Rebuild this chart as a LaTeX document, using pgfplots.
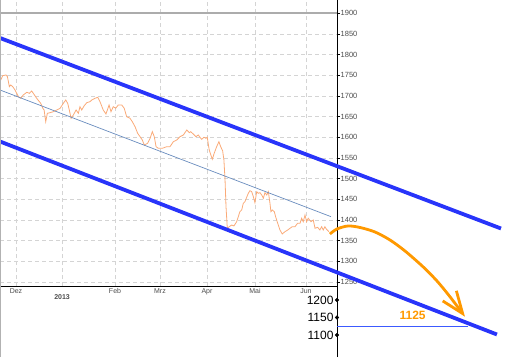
\documentclass[border=0pt]{standalone}
\usepackage{pgfplots}
\pgfplotsset{compat=1.18}
\usepackage{fontspec}
\setmainfont{Liberation Sans}
\usetikzlibrary{arrows.meta}
\definecolor{chan}{RGB}{40,52,250}
\definecolor{price}{RGB}{250,170,120}
\definecolor{trend}{RGB}{105,140,190}
\definecolor{arr}{RGB}{255,153,0}
\definecolor{gridc}{RGB}{212,212,212}
\definecolor{lvl}{RGB}{60,90,255}
\begin{document}
\begin{tikzpicture}
\begin{axis}[
  at={(0,71pt)}, anchor=south west,
  scale only axis, width=337pt, height=286pt,
  xmin=-7.4, xmax=201.2, ymin=1240.3, ymax=1932.2,
  clip=false,
  axis x line*=bottom, axis y line*=right,
  axis line style={black, line width=0.8pt},
  xtick={2.5,63.8,91.6,120.7,150.4,182},
  xticklabels={Dez,Feb,Mrz,Apr,Mai,Jun},
  xtick style={draw=none},
  extra x ticks={31}, extra x tick labels={\textbf{2013}},
  extra x tick style={tick style={draw=black, line width=0.6pt}, xticklabel style={yshift=-6pt}},
  x tick label style={font=\fontsize{7}{8}\selectfont, text=black!70, inner sep=1pt, yshift=2pt},
  ytick={1250,1300,...,1900},
  y tick label style={font=\fontsize{7.5}{8}\selectfont, text=black!70, inner sep=0.5pt},
  ytick style={black, line width=0.6pt},
  /pgf/number format/1000 sep={},
  /pgf/number format/assume math mode=true,
  tick align=outside, major tick length=3pt,
  xmajorgrids, ymajorgrids,
  grid style={gridc, dash pattern=on 4pt off 3pt, line width=0.6pt},
]
\addplot[gray!65, line width=1.8pt] coordinates {(-7.4,1900) (201.2,1900)};
\addplot[price, line width=0.8pt] coordinates {
(-7.4,1734.6) (-5.7,1749.1) (-3.7,1750.8) (-2.8,1746.7) (-1.6,1722.5) (-0.8,1726.6)
(0.5,1722.5) (1.9,1714.5) (4.0,1698.3) (5.4,1694.4) (7.0,1702.4) (9.2,1708.9)
(10.8,1706.5) (12.2,1712.1) (13.2,1706.5) (15.3,1694.4) (17.8,1682.3) (19.1,1670.2)
(19.9,1666.1) (20.9,1637.8) (21.9,1658.1) (23.6,1659.6) (25.6,1662.0) (27.7,1666.1)
(29.8,1670.2) (31.8,1682.3) (33.3,1690.3) (34.5,1682.3) (35.5,1666.1) (36.6,1646.0)
(38.0,1654.0) (39.7,1666.1) (41.1,1658.1) (42.1,1674.1) (43.2,1666.1) (44.6,1675.8)
(46.3,1683.8) (48.3,1686.2) (49.4,1690.3) (51.4,1694.4) (53.1,1696.8) (54.5,1686.2)
(56.5,1666.1) (58.2,1656.4) (60.1,1678.2) (61.3,1662.0) (62.7,1674.1) (64.2,1670.2)
(65.8,1678.2) (68.0,1678.2) (69.5,1670.2) (71.0,1649.9) (73.1,1646.0) (74.5,1637.8)
(76.2,1625.7) (77.8,1609.7) (79.3,1601.5) (80.7,1593.5) (81.9,1581.4) (84.0,1585.6)
(85.5,1597.6) (86.9,1613.6) (88.1,1601.5) (89.2,1577.3) (90.6,1573.5) (93.1,1573.5)
(95.8,1577.3) (97.8,1577.3) (99.9,1589.4) (102.0,1593.5) (104.0,1601.5) (106.1,1605.6)
(108.2,1617.7) (109.8,1611.2) (110.6,1613.6) (112.2,1608.1) (113.9,1601.5) (115.3,1605.6)
(116.4,1600.1) (117.4,1595.2) (118.9,1600.1) (120.1,1597.6) (120.9,1600.1) (122.1,1569.4)
(124.0,1546.8) (125.2,1561.4) (126.7,1577.3) (128.1,1589.4) (129.2,1577.3) (130.4,1567.6)
(131.2,1545.2) (131.9,1496.8) (132.5,1432.2) (133.3,1379.9) (134.5,1383.8) (136.0,1387.9)
(137.4,1385.5) (139.1,1395.9) (141.1,1420.1) (142.2,1424.2) (143.2,1440.4) (144.2,1444.3)
(145.3,1454.9) (146.3,1464.6) (147.3,1470.9) (148.4,1468.5) (149.4,1456.4) (150.4,1441.9)
(151.5,1468.5) (152.5,1464.6) (153.5,1466.1) (154.6,1460.5) (155.6,1452.5) (156.6,1466.1)
(157.7,1460.5) (158.7,1468.5) (159.7,1440.4) (160.3,1420.1) (161.1,1424.2) (162.4,1420.1)
(163.2,1408.0) (164.5,1392.0) (165.9,1375.8) (167.3,1366.2) (169.0,1371.7) (170.7,1375.8)
(172.1,1379.9) (173.5,1383.8) (175.2,1383.8) (176.8,1392.0) (178.3,1392.0) (179.3,1404.1)
(180.3,1395.9) (181.4,1412.1) (182.4,1395.9) (183.4,1404.1) (185.1,1395.9) (186.5,1400.0)
(187.6,1379.9) (189.2,1382.3) (190.6,1375.8) (191.7,1383.8) (192.7,1375.8) (193.7,1383.8)
(194.7,1377.5) (196.2,1371.7)
};
\addplot[trend, line width=0.7pt] coordinates {(-7.4,1714.5) (197.5,1408)};
\addplot[chan, line width=3.8pt] coordinates {(-7.4,1840.3) (302.7,1379.4)};
\addplot[chan, line width=3.8pt] coordinates {(-7.4,1589.9) (300.2,1123)};
\addplot[arr, line width=2.8pt, smooth, -{Straight Barb[length=22pt,width=17pt]}] coordinates {
(196.8,1366.1) (201.2,1378.2) (208.0,1385.5) (215.4,1381.9) (224.7,1371.0) (234.0,1351.6)
(243.3,1325.0) (254.4,1287.0) (263.1,1252.4) (271.1,1214.5) (280.4,1166.1)
};
\end{axis}
\begin{axis}[
  at={(337pt,0)}, anchor=south west,
  scale only axis, width=164pt, height=71pt,
  xmin=201.2, xmax=302.7, ymin=1037.1, ymax=1240,
  clip=false,
  axis x line=none, axis y line*=left,
  axis line style={black, line width=0.8pt},
  ytick={1100,1150,1200},
  major tick length=0pt,
  y tick label style={font=\fontsize{12}{14}\selectfont, text=black},
  /pgf/number format/1000 sep={},
  /pgf/number format/assume math mode=true,
]
\addplot[lvl, line width=0.8pt] coordinates {(201.2,1125) (282.2,1125)};
\addplot[only marks, mark=*, mark size=1.8pt, black] coordinates {(201.2,1200) (201.2,1150) (201.2,1100)};
\node[text=arr, font=\bfseries\fontsize{12}{14}\selectfont, anchor=south, inner sep=0pt, yshift=6pt] at (axis cs:248,1125) {1125};
\end{axis}
\draw[gray!60, line width=1pt] (0.5pt,0) -- (0.5pt,357pt);
\pgfresetboundingbox
\useasboundingbox (0,0) rectangle (514pt,357pt);
\end{tikzpicture}
\end{document}
